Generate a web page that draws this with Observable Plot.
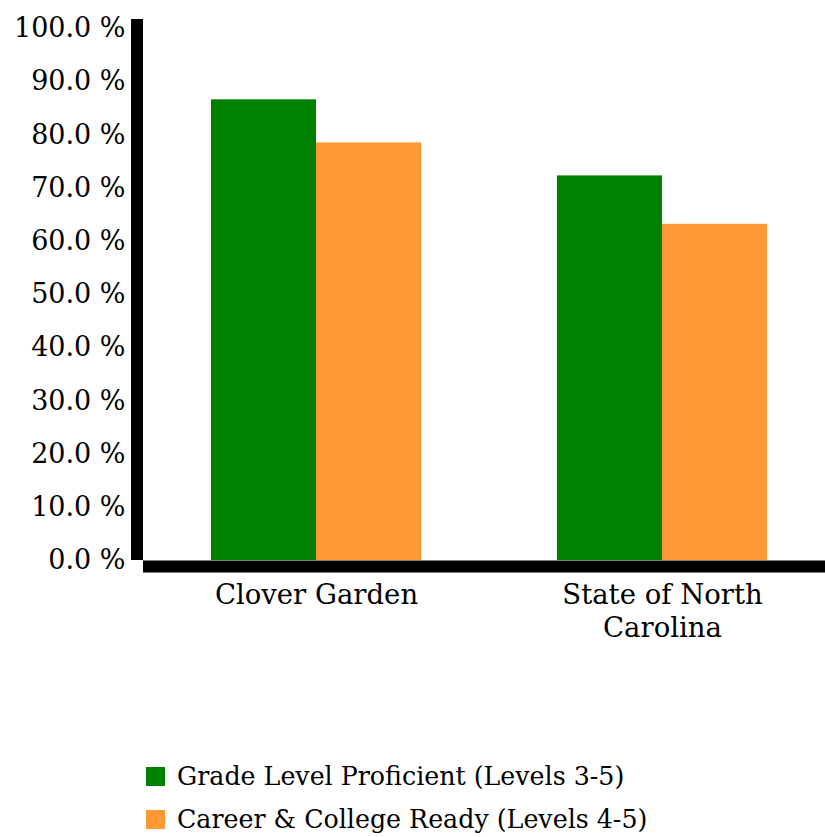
<!DOCTYPE html>
<html>
<head>
<meta charset="utf-8">
<script src="https://cdn.jsdelivr.net/npm/d3@7"></script>
<script src="https://cdn.jsdelivr.net/npm/@observablehq/plot@0.6"></script>
<style>
  body { margin: 0; background: #fff; font-family: "DejaVu Serif", serif; }
  #chart svg [aria-label="y-axis"] .domain,
  #chart svg [aria-label="frame"] { stroke-width: 12px; transform: translateX(-6px); stroke: #000; stroke-opacity: 1; stroke-linecap: butt; }
  #chart svg [aria-label="frame"] * { stroke-linecap: butt; }
  .legend { margin-left: 146px; display: flex; flex-direction: column; align-items: flex-start; font-size: 25.3px; color: #000; }
  .legend .row { display: flex; align-items: center; height: 43px; }
  .legend .sw { width: 19px; height: 19px; margin-right: 12px; }
</style>
</head>
<body>
<div id="chart"></div>
<div class="legend" id="legend"></div>
<script>
const schools = ["Clover Garden", "State of North Carolina"];
const xLabels = ["Clover Garden", "State of North\nCarolina"];
const series = ["Grade Level Proficient (Levels 3-5)", "Career & College Ready (Levels 4-5)"];
const gradeLevel = [86.6, 72.3];
const careerReady = [78.5, 63.2];
const colors = ["#008000", "#FF9933"];
const yTicks = [0, 10, 20, 30, 40, 50, 60, 70, 80, 90, 100];

const W = 825, H = 650, mL = 143, mR = 0;
const padIn = 0.393, padOut = 0.182, align = 0.54;
const bw = d3.scaleBand().domain(schools).range([mL, W - mR]).paddingInner(padIn).paddingOuter(padOut).align(align).bandwidth();

const green = schools.map((s, i) => ({school: s, value: gradeLevel[i]}));
const orange = schools.map((s, i) => ({school: s, value: careerReady[i]}));

const chart = Plot.plot({
  width: W,
  height: H,
  marginTop: 19,
  marginBottom: 90,
  marginLeft: mL,
  marginRight: mR,
  style: {fontFamily: "DejaVu Serif", fontSize: "27px", color: "#000", background: "#fff"},
  x: {domain: schools, paddingInner: padIn, paddingOuter: padOut, align: align, axis: null},
  y: {domain: [0, 101.7], ticks: yTicks, tickFormat: d => d.toFixed(1) + " %", tickSize: 0, tickPadding: 18, line: true, label: null},
  marks: [
    Plot.barY(green, {x: "school", y: "value", fill: colors[0], insetRight: bw / 2}),
    Plot.barY(orange, {x: "school", y: "value", fill: colors[1], insetLeft: bw / 2}),
    Plot.ruleY([0], {stroke: "#000", strokeWidth: 12, dy: 6}),
    Plot.text(schools, {x: d => d, y: 0, text: (d, i) => xLabels[i], dy: 20.5, lineAnchor: "top", lineHeight: 1.2, fontSize: 27.5, fill: "#000"})
  ]
});
document.getElementById("chart").appendChild(chart);

const legend = document.getElementById("legend");
legend.style.marginTop = "105px";
series.forEach((s, i) => {
  const row = document.createElement("div");
  row.className = "row";
  const sw = document.createElement("div");
  sw.className = "sw";
  sw.style.background = colors[i];
  const t = document.createElement("span");
  t.textContent = s;
  row.appendChild(sw);
  row.appendChild(t);
  legend.appendChild(row);
});
</script>
</body>
</html>
